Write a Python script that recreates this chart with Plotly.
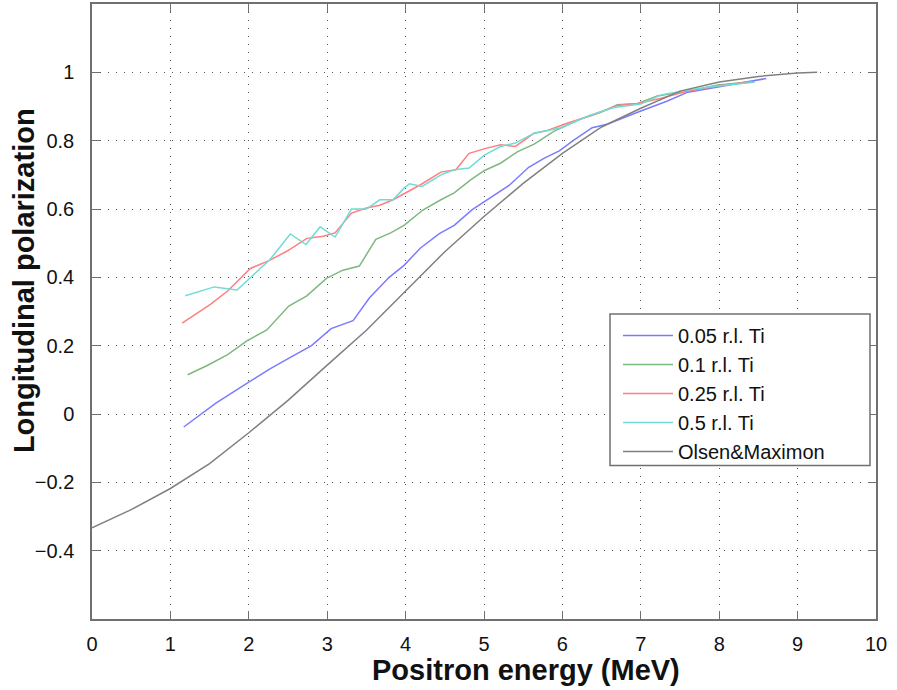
import plotly.graph_objects as go

# Data
e_005 = [1.17,1.58,2.0,2.27,2.53,2.8,3.05,3.33,3.54,3.79,3.98,4.19,4.43,4.62,4.85,5.04,5.32,5.57,5.77,5.96,6.15,6.38,6.57,7.0,7.34,7.6,7.98,8.32,8.6]
p_005 = [-0.038,0.032,0.093,0.132,0.166,0.2,0.25,0.273,0.34,0.4,0.435,0.486,0.528,0.552,0.598,0.627,0.669,0.722,0.749,0.77,0.802,0.838,0.848,0.887,0.916,0.942,0.958,0.971,0.982]

e_01 = [1.22,1.47,1.73,1.98,2.23,2.51,2.74,2.99,3.20,3.41,3.62,3.81,3.98,4.22,4.45,4.62,4.83,5.0,5.21,5.43,5.64,5.89,6.23,6.49,6.70,6.96,7.21,7.6,7.98,8.45]
p_01 = [0.115,0.142,0.174,0.215,0.246,0.316,0.346,0.397,0.421,0.433,0.511,0.530,0.552,0.597,0.627,0.647,0.685,0.712,0.734,0.768,0.79,0.827,0.863,0.883,0.905,0.909,0.931,0.945,0.963,0.973]

e_025 = [1.15,1.51,1.73,2.02,2.25,2.49,2.74,2.95,3.10,3.31,3.50,3.67,3.84,4.0,4.19,4.45,4.64,4.81,5.0,5.21,5.40,5.64,5.81,6.06,6.36,6.70,6.96,7.26,7.6,7.98,8.45]
p_025 = [0.266,0.321,0.36,0.426,0.448,0.477,0.514,0.52,0.53,0.588,0.603,0.611,0.627,0.647,0.671,0.708,0.715,0.763,0.776,0.788,0.783,0.822,0.83,0.851,0.873,0.903,0.909,0.924,0.945,0.96,0.973]

e_05 = [1.19,1.56,1.85,2.02,2.27,2.53,2.73,2.91,3.10,3.31,3.50,3.67,3.84,3.98,4.05,4.21,4.45,4.62,4.81,5.0,5.21,5.40,5.64,5.81,5.98,6.36,6.66,7.0,7.26,7.6,7.98,8.45]
p_05 = [0.346,0.372,0.363,0.399,0.452,0.527,0.496,0.548,0.518,0.6,0.6,0.627,0.627,0.661,0.674,0.666,0.7,0.715,0.72,0.757,0.783,0.793,0.822,0.83,0.838,0.875,0.897,0.907,0.934,0.948,0.96,0.971]

e_om = [0,0.5,1,1.5,2,2.5,3,3.5,4,4.5,5,5.5,6,6.5,7,7.5,8,8.5,9,9.25]
p_om = [-0.333,-0.28,-0.218,-0.145,-0.055,0.04,0.143,0.245,0.36,0.475,0.578,0.675,0.763,0.84,0.895,0.945,0.972,0.988,0.998,1.0]

series = [
    ("0.05 r.l. Ti", e_005, p_005, "#7b7bff"),
    ("0.1 r.l. Ti", e_01, p_01, "#7fb87f"),
    ("0.25 r.l. Ti", e_025, p_025, "#ff7f7f"),
    ("0.5 r.l. Ti", e_05, p_05, "#6fdcd6"),
    ("Olsen&Maximon", e_om, p_om, "#808080"),
]

x_ticks = list(range(0, 11))
y_ticks = [-0.4, -0.2, 0, 0.2, 0.4, 0.6, 0.8, 1]

FONT = "Liberation Sans, Arial"

fig = go.Figure()
for name, e, p, c in series:
    fig.add_trace(go.Scatter(x=e, y=p, mode="lines", name=name,
                             line=dict(color=c, width=1.5)))

axis_common = dict(
    showline=True, linecolor="#707070", linewidth=1.5, mirror="ticks",
    ticks="inside", ticklen=8, tickcolor="#707070", tickwidth=1.2,
    showgrid=True, gridcolor="#555555", griddash="1.2px,6.8px", gridwidth=1.2,
    zeroline=False,
    tickfont=dict(family=FONT, size=20, color="#111111"),
)

fig.update_layout(
    width=897, height=690,
    margin=dict(l=92, r=21, t=2, b=71),
    plot_bgcolor="white", paper_bgcolor="white",
    xaxis=dict(range=[0, 10], tickvals=x_ticks, ticklabelstandoff=6, **axis_common),
    yaxis=dict(range=[-0.6, 1.2], tickvals=y_ticks, ticklabelstandoff=12, **axis_common),
    legend=dict(x=(618 - 92) / 784, y=(619 - 315) / 617, xanchor="left", yanchor="top",
                bgcolor="rgba(0,0,0,0)", borderwidth=0,
                font=dict(family=FONT, size=20, color="#111111"),
                itemwidth=50),
    showlegend=True,
    shapes=[dict(type="rect", xref="paper", yref="paper",
                 x0=(610 - 92) / 784, x1=(870 - 92) / 784,
                 y0=(619 - 465) / 617, y1=(619 - 313) / 617,
                 line=dict(color="#707070", width=1.5), fillcolor="white",
                 layer="above")],
    annotations=[
        dict(text="<b>Positron energy (MeV)</b>", xref="paper", yref="paper",
             x=(526 - 92) / 784, y=(619 - 670) / 617, xanchor="center", yanchor="middle",
             showarrow=False, font=dict(family=FONT, size=29, color="#111111")),
        dict(text="<b>Longitudinal polarization</b>", xref="paper", yref="paper",
             x=(24 - 92) / 784, y=(619 - 280) / 617, xanchor="center", yanchor="middle",
             textangle=-90, showarrow=False,
             font=dict(family=FONT, size=29, color="#111111")),
    ],
)

fig.write_html("out.html")
